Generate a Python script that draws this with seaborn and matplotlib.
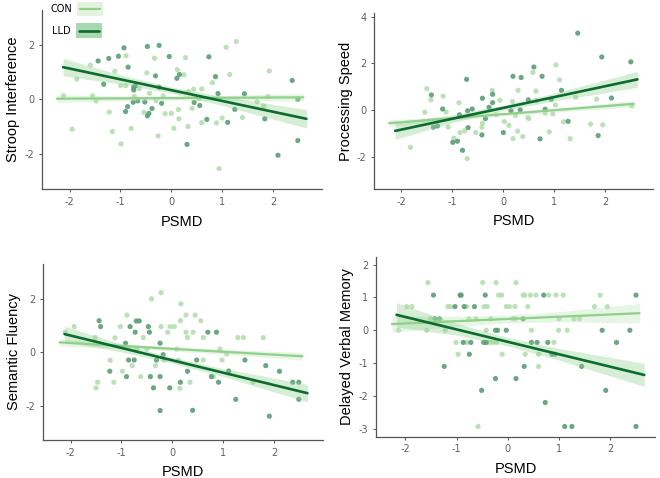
import numpy as np
import pandas as pd
import matplotlib
matplotlib.use("Agg")
import matplotlib.pyplot as plt
import seaborn as sns
from matplotlib.patches import Rectangle
from matplotlib.lines import Line2D

# ---------------- data ----------------
groups = ["CON", "LLD"]
titles = ["Stroop Interference", "Processing Speed", "Semantic Fluency", "Delayed Verbal Memory"]
x_label = "PSMD"

# Panel 1: Stroop Interference
p1_con_x = [-1.95,-2.12,-1.86,-1.59,-1.55,-1.48,-1.22,-1.16,-1.11,-0.99,-0.89,-1.00,-0.90,-0.79,-0.73,-0.63,-0.54,-0.48,-0.43,-0.33,-0.26,-0.16,-0.12,0.00,0.05,0.12,0.14,0.15,0.25,0.33,0.34,0.41,0.44,0.28,0.60,0.60,0.81,0.89,0.94,1.00,1.08,1.15,1.28,1.40,1.69,1.82,1.93,1.90,0.54,-0.30]
p1_con_y = [-1.10,0.13,0.74,1.26,0.12,-0.06,-0.47,-1.19,1.03,-1.64,1.60,0.50,0.50,-1.07,0.10,0.39,-0.48,0.97,0.22,1.51,-1.35,0.12,-0.53,-0.52,-1.07,1.09,-0.38,-0.72,0.90,-1.00,0.28,-0.33,0.37,1.53,0.38,-0.86,0.61,-0.87,-2.55,-0.69,1.91,0.91,2.12,-0.67,-0.09,-0.25,1.04,0.10,0.02,-0.05]
p1_lld_x = [-1.44,-1.23,-1.33,-1.04,-0.93,-0.85,-0.90,-0.86,-0.75,-0.74,-0.74,-0.71,-0.66,-0.52,-0.47,-0.47,-0.44,-0.38,-0.31,-0.24,-0.24,-0.19,-0.04,0.11,0.16,0.31,0.45,0.56,0.70,0.74,0.87,0.92,1.11,1.25,1.44,1.84,2.10,2.38,2.49,2.49]
p1_lld_y = [1.41,1.50,0.55,1.58,1.89,1.18,-0.45,-0.27,-0.11,0.34,0.44,0.49,-0.06,-0.10,1.94,-0.61,-0.52,-0.34,0.86,1.98,0.44,-0.15,1.57,0.77,0.91,-1.66,-0.12,-0.23,-0.74,1.56,0.83,0.21,-0.85,-0.37,0.20,-0.72,-2.06,0.69,0.00,-1.52]

# Panel 2: Processing Speed
p2_con_x = [-1.82,-1.54,-1.50,-1.42,-1.18,-1.12,-1.08,-0.97,-0.87,-0.85,-0.76,-0.71,-0.54,-0.42,-0.41,-0.22,-0.14,-0.07,0.02,0.11,0.18,0.19,0.24,0.28,0.29,0.38,0.48,0.50,0.58,0.64,0.65,0.82,0.90,0.97,1.03,1.02,1.10,1.18,1.31,1.42,1.71,1.83,1.95,2.52]
p2_con_y = [-1.60,-0.10,0.91,0.43,0.59,-0.09,-0.73,-1.21,0.31,-0.97,-0.90,-2.09,-0.97,-0.74,-0.57,0.84,-0.21,0.41,-0.50,-0.66,0.36,-1.23,-0.24,-0.91,0.84,-1.14,-0.33,-0.37,1.61,0.81,0.39,-0.14,-0.94,-0.17,1.93,0.21,1.29,-0.51,-1.23,0.54,-0.61,0.46,-0.64,0.17]
p2_lld_x = [-1.41,-1.37,-1.29,-1.19,-0.99,-0.90,-0.86,-0.80,-0.72,-0.70,-0.69,-0.61,-0.41,-0.42,-0.35,-0.28,-0.21,-0.21,0.00,0.15,0.19,0.35,0.33,0.49,0.60,0.72,0.76,0.82,0.94,1.14,1.27,1.46,1.86,1.93,2.12,2.50]
p2_lld_y = [0.64,-0.74,-0.69,0.04,-1.39,-1.34,-0.21,-1.73,1.31,-0.04,-0.76,0.04,0.50,-1.07,-0.37,0.11,0.31,0.67,-0.97,-0.04,1.44,1.39,0.00,0.43,1.84,-1.24,1.44,0.03,0.46,0.84,-0.49,3.29,-1.10,2.27,0.51,2.06]

# Panel 3: Semantic Fluency
p3_con_x = [-2.11,-1.93,-1.50,-1.47,-1.52,-1.22,-1.15,-1.13,-1.02,-0.89,-0.98,-0.79,-0.70,-0.62,-0.57,-0.50,-0.41,-0.33,-0.22,-0.22,-0.16,-0.09,-0.04,0.04,0.09,0.12,0.15,0.17,0.16,0.27,0.27,0.30,0.35,0.41,0.45,0.56,0.61,0.61,0.81,0.94,0.98,1.07,1.29,1.40,1.79,1.59]
p3_con_y = [0.75,0.96,-1.33,-1.12,0.55,-0.30,-1.12,0.54,0.96,1.39,-0.71,-0.50,0.12,-0.91,0.55,0.12,2.00,-0.50,2.23,0.96,-0.29,0.75,0.96,0.96,0.12,-0.30,-1.35,1.81,1.18,1.39,0.75,0.55,-1.12,0.75,1.39,1.18,0.55,-0.29,-0.91,0.12,-0.29,-0.07,0.55,0.55,0.55,-1.12]
p3_lld_x = [-1.44,-1.41,-1.23,-0.92,-0.90,-0.86,-0.83,-0.75,-0.73,-0.71,-0.65,-0.47,-0.45,-0.43,-0.37,-0.31,-0.24,-0.24,-0.24,-0.18,-0.05,0.16,0.30,0.48,0.40,0.70,0.77,0.87,0.91,1.11,1.25,1.43,1.84,1.91,2.11,2.37,2.49,2.49]
p3_lld_y = [1.18,0.96,-0.71,0.34,-0.91,-0.29,0.96,-0.29,0.75,1.17,1.17,0.96,0.75,-0.91,-1.33,-0.29,0.34,-0.91,-2.18,-0.09,-1.33,-1.12,-0.71,-0.29,-2.17,0.75,-0.91,0.75,-1.12,-0.70,-1.76,-0.29,-0.50,-2.39,-0.71,-1.12,-1.12,-1.76]

# Panel 4: Delayed Verbal Memory
p4_con_x = [-1.56,-0.49,-0.23,0.16,-0.18,-0.12,0.30,0.33,0.44,0.55,0.80,0.94,1.08,1.80,-1.97,-1.87,-1.17,-1.12,-0.80,-0.46,-0.40,-0.03,0.03,0.14,0.39,1.69,1.94,-1.51,-0.76,-0.62,-0.33,0.10,0.14,1.00,1.29,1.40,-2.13,-1.58,-1.22,-0.42,0.46,0.99,1.16,-1.01,-0.80,-0.36,-0.29,-0.22,0.90,-0.97,-0.11,0.34,0.60,0.60,-0.58]
p4_con_y = [1.45,1.45,1.45,1.45,1.07,1.07,1.07,1.07,1.07,1.07,1.07,1.07,1.07,1.07,0.72,0.72,0.72,0.72,0.72,0.72,0.72,0.72,0.72,0.72,0.72,0.72,0.72,0.35,0.35,0.35,0.35,0.35,0.35,0.35,0.35,0.35,0.00,0.00,0.00,0.00,0.00,0.00,0.00,-0.37,-0.37,-0.37,-0.37,-0.37,-0.37,-0.73,-0.73,-0.73,-0.73,-1.10,-2.93]
p4_lld_x = [-1.45,-0.93,-0.91,-0.44,0.70,2.50,-1.03,-0.85,-0.65,-1.42,-1.33,0.30,-0.24,-0.20,-0.03,1.84,2.38,-0.87,-0.72,-0.47,-0.42,0.46,0.57,0.78,2.12,-0.75,0.86,0.92,-1.24,0.32,1.44,-0.24,0.16,-0.51,1.91,0.73,1.11,1.25,2.50]
p4_lld_y = [1.07,1.07,1.07,1.07,1.07,1.07,0.72,0.72,0.72,0.35,0.35,0.35,0.00,0.00,0.00,0.00,0.00,-0.37,-0.37,-0.37,-0.37,-0.37,-0.37,-0.37,-0.37,-0.73,-0.73,-0.73,-1.10,-1.10,-1.10,-1.47,-1.47,-1.83,-1.83,-2.20,-2.93,-2.93,-2.93]

# Fitted lines (endpoints)
p1_con_line_x = [-2.25, 2.60]; p1_con_line_y = [0.02, 0.07]
p1_lld_line_x = [-2.13, 2.66]; p1_lld_line_y = [1.18, -0.72]
p2_con_line_x = [-2.24, 2.56]; p2_con_line_y = [-0.57, 0.26]
p2_lld_line_x = [-2.12, 2.63]; p2_lld_line_y = [-0.90, 1.31]
p3_con_line_x = [-2.22, 2.56]; p3_con_line_y = [0.37, -0.15]
p3_lld_line_x = [-2.12, 2.66]; p3_lld_line_y = [0.68, -1.53]
p4_con_line_x = [-2.26, 2.57]; p4_con_line_y = [0.19, 0.52]
p4_lld_line_x = [-2.17, 2.66]; p4_lld_line_y = [0.47, -1.36]

# Confidence bands (read at left end, -1, 0, 1, right end)
p1_con_band_x = [-2.25, -1, 0, 1, 2.60]; p1_con_lo = [-0.12, -0.06, -0.03, -0.04, -0.07]; p1_con_hi = [0.16, 0.12, 0.11, 0.14, 0.21]
p1_lld_band_x = [-2.13, -1, 0, 1, 2.66]; p1_lld_lo = [0.86, 0.56, 0.22, -0.23, -1.06]; p1_lld_hi = [1.50, 0.90, 0.45, 0.11, -0.38]
p2_con_band_x = [-2.24, -1, 0, 1, 2.56]; p2_con_lo = [-0.71, -0.435, -0.25, -0.09, 0.12]; p2_con_hi = [-0.43, -0.275, -0.11, 0.07, 0.40]
p2_lld_band_x = [-2.12, -1, 0, 1, 2.63]; p2_lld_lo = [-1.26, -0.55, -0.02, 0.38, 0.97]; p2_lld_hi = [-0.54, -0.21, 0.20, 0.72, 1.65]
p3_con_band_x = [-2.22, -1, 0, 1, 2.56]; p3_con_lo = [0.23, 0.147, 0.048, -0.07, -0.29]; p3_con_hi = [0.51, 0.327, 0.208, 0.11, -0.01]
p3_lld_band_x = [-2.12, -1, 0, 1, 2.66]; p3_lld_lo = [0.39, 0.01, -0.41, -0.91, -1.86]; p3_lld_hi = [0.97, 0.31, -0.19, -0.61, -1.20]
p4_con_band_x = [-2.26, -1, 0, 1, 2.57]; p4_con_lo = [-0.06, 0.126, 0.224, 0.26, 0.22]; p4_con_hi = [0.44, 0.426, 0.464, 0.56, 0.82]
p4_lld_band_x = [-2.17, -1, 0, 1, 2.66]; p4_lld_lo = [0.10, -0.15, -0.48, -0.91, -1.71]; p4_lld_hi = [0.84, 0.21, -0.22, -0.55, -1.01]

y_ticks = [[-2, 0, 2], [-2, 0, 2, 4], [-2, 0, 2], [-3, -2, -1, 0, 1, 2]]
x_ticks = [-2, -1, 0, 1, 2]

# ---------------- style ----------------
sns.set_theme(style="white")
plt.rcParams["font.family"] = ["Liberation Sans", "DejaVu Sans"]
plt.rcParams["axes.unicode_minus"] = False

point_col = {"CON": "#b3dfae", "LLD": "#5b9e76"}
line_col = {"CON": "#8fd08a", "LLD": "#0c6b2e"}
band_col = {"CON": "#b9e3b3", "LLD": "#8ccf8c"}
key_bg = {"CON": "#e3f3df", "LLD": "#a8d8ae"}
spine_col = "#555555"
tick_col = "#606060"

W, H = 660, 478
fig = plt.figure(figsize=(W / 100, H / 100), dpi=100)

positions = [
    [0.0632, 0.604, 0.4242, 0.375],
    [0.5671, 0.6046, 0.4227, 0.3675],
    [0.0647, 0.0795, 0.4242, 0.3682],
    [0.5697, 0.0864, 0.4227, 0.3766],
]
xlims = [(-2.55, 2.96), (-2.53, 2.94), (-2.55, 2.96), (-2.57, 2.87)]
ylims = [(-3.31, 3.28), (-3.39, 4.14), (-3.28, 3.30), (-3.24, 2.24)]

panels = [
    (p1_con_x, p1_con_y, p1_lld_x, p1_lld_y, p1_con_line_x, p1_con_line_y, p1_lld_line_x, p1_lld_line_y,
     p1_con_band_x, p1_con_lo, p1_con_hi, p1_lld_band_x, p1_lld_lo, p1_lld_hi),
    (p2_con_x, p2_con_y, p2_lld_x, p2_lld_y, p2_con_line_x, p2_con_line_y, p2_lld_line_x, p2_lld_line_y,
     p2_con_band_x, p2_con_lo, p2_con_hi, p2_lld_band_x, p2_lld_lo, p2_lld_hi),
    (p3_con_x, p3_con_y, p3_lld_x, p3_lld_y, p3_con_line_x, p3_con_line_y, p3_lld_line_x, p3_lld_line_y,
     p3_con_band_x, p3_con_lo, p3_con_hi, p3_lld_band_x, p3_lld_lo, p3_lld_hi),
    (p4_con_x, p4_con_y, p4_lld_x, p4_lld_y, p4_con_line_x, p4_con_line_y, p4_lld_line_x, p4_lld_line_y,
     p4_con_band_x, p4_con_lo, p4_con_hi, p4_lld_band_x, p4_lld_lo, p4_lld_hi),
]

for i, pan in enumerate(panels):
    (cx, cy, lx, ly, clx, cly, llx, lly, cbx, clo, chi, lbx, llo, lhi) = pan
    ax = fig.add_axes(positions[i])
    pts = pd.DataFrame({
        "x": list(cx) + list(lx),
        "y": list(cy) + list(ly),
        "group": ["CON"] * len(cx) + ["LLD"] * len(lx),
    })
    sns.scatterplot(data=pts, x="x", y="y", hue="group", hue_order=groups,
                    palette=point_col, s=14, linewidth=0, alpha=0.9, ax=ax,
                    legend=False, zorder=2)
    ax.fill_between(cbx, clo, chi, color=band_col["CON"], alpha=0.35, lw=0, zorder=3)
    ax.fill_between(lbx, llo, lhi, color=band_col["LLD"], alpha=0.35, lw=0, zorder=3)
    lines = pd.DataFrame({
        "x": list(clx) + list(llx),
        "y": list(cly) + list(lly),
        "group": ["CON"] * len(clx) + ["LLD"] * len(llx),
    })
    sns.lineplot(data=lines, x="x", y="y", hue="group", hue_order=groups,
                 palette=line_col, ax=ax, legend=False, sort=True,
                 estimator=None, zorder=4)
    for ln, g in zip(ax.lines, groups):
        ln.set_linewidth(1.6 if g == "CON" else 1.9)

    ax.set_xlim(*xlims[i])
    ax.set_ylim(*ylims[i])
    ax.set_xticks(x_ticks)
    ax.set_yticks(y_ticks[i])
    ax.set_xlabel(x_label, fontsize=10.5, color="black", labelpad=5.5)
    ax.set_ylabel(titles[i], fontsize=10.5, color="black", labelpad=3)
    for s in ["top", "right"]:
        ax.spines[s].set_visible(False)
    for s in ["left", "bottom"]:
        ax.spines[s].set_color(spine_col)
        ax.spines[s].set_linewidth(0.9)
    ax.tick_params(axis="both", which="both", length=2.5, width=0.7, color=spine_col,
                   labelsize=7, labelcolor=tick_col, pad=3, left=True, bottom=True)
    for lab in ax.get_xticklabels() + ax.get_yticklabels():
        lab.set_fontfamily(["DejaVu Sans"])

# ---------------- legend (drawn as keys in figure pixels) ----------------
key_boxes = {"CON": (77, 2, 26, 14), "LLD": (76, 23, 26, 15)}   # x, top, w, h in px
for g in groups:
    x0, t0, w0, h0 = key_boxes[g]
    fig.add_artist(Rectangle((x0 / W, 1 - (t0 + h0) / H), w0 / W, h0 / H,
                             transform=fig.transFigure, facecolor=key_bg[g],
                             edgecolor="none", zorder=5))
    yc = 1 - (t0 + h0 / 2) / H
    fig.add_artist(Line2D([(x0 + 3) / W, (x0 + w0 - 3) / W], [yc, yc],
                          transform=fig.transFigure, color=line_col[g],
                          lw=1.6 if g == "CON" else 1.9, zorder=6))
    fig.text((x0 - 5) / W, yc, g, ha="right", va="center", fontsize=7,
             color="black", family=["DejaVu Sans"])

fig.savefig("out.png", dpi=100)
